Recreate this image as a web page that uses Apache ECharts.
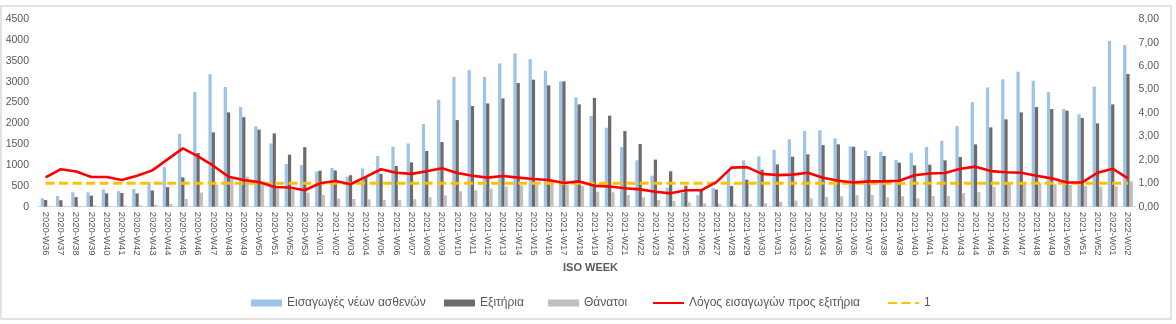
<!DOCTYPE html>
<html>
<head>
<meta charset="utf-8">
<script src="https://cdn.jsdelivr.net/npm/echarts@6/dist/echarts.min.js"></script>
<style>
html,body{margin:0;padding:0;background:#fff;}
#chart{width:1176px;height:324px;}
</style>
</head>
<body>
<div id="chart"></div>
<script>
var weeks = [
'2020-W36','2020-W37','2020-W38','2020-W39','2020-W40','2020-W41','2020-W42','2020-W43','2020-W44','2020-W45','2020-W46','2020-W47','2020-W48','2020-W49','2020-W50','2020-W51','2020-W52','2020-W53',
'2021-W01','2021-W02','2021-W03','2021-W04','2021-W05','2021-W06','2021-W07','2021-W08','2021-W09','2021-W10','2021-W11','2021-W12','2021-W13','2021-W14','2021-W15','2021-W16','2021-W17','2021-W18','2021-W19','2021-W20','2021-W21','2021-W22','2021-W23','2021-W24','2021-W25','2021-W26',
'2021-W27','2021-W28','2021-W29','2021-W30','2021-W31','2021-W32','2021-W33','2021-W34','2021-W35','2021-W36','2021-W37','2021-W38','2021-W39','2021-W40','2021-W41','2021-W42','2021-W43','2021-W44','2021-W45','2021-W46','2021-W47','2021-W48','2021-W49','2021-W50','2021-W51','2021-W52',
'2022-W01','2022-W02'];

var admissions = [
200,260,345,345,410,375,425,590,950,1750,2755,3185,2875,2395,1930,1520,1025,1000,
850,930,720,920,1215,1440,1520,1985,2570,3113,3280,3113,3440,3680,3545,3265,3010,2625,2180,1896,1433,1113,744,456,336,280,
450,850,1113,1209,1368,1617,1817,1833,1641,1450,1345,1320,1121,1297,1433,1585,1937,2513,2865,3057,3241,3025,2753,2345,2217,2881,
3977,3881];

var discharges = [
160,155,230,265,320,330,320,390,470,705,1290,1785,2265,2150,1850,1760,1250,1430,
865,870,755,715,790,977,1065,1337,1553,2080,2417,2480,2600,2970,3050,2913,3010,2457,2613,2185,1817,1505,1130,850,504,395,
410,497,648,888,1017,1200,1257,1480,1497,1440,1217,1217,1057,993,1009,1113,1193,1497,1905,2097,2265,2393,2345,2305,2129,2001,
2457,3185];

var deaths = [
15,15,20,25,20,30,35,45,65,185,340,530,710,720,600,440,400,336,
280,195,185,177,160,160,180,225,270,370,395,435,480,510,530,530,520,500,360,345,280,225,160,136,104,80,
64,56,64,80,120,144,200,235,250,275,280,225,250,200,257,257,325,350,475,560,580,560,540,520,500,480,
490,610];

var ratio = [
1.25,1.60,1.50,1.27,1.27,1.14,1.32,1.55,2.02,2.49,2.15,1.75,1.28,1.14,1.05,0.84,0.82,0.70,
1.00,1.10,0.96,1.27,1.60,1.45,1.40,1.51,1.64,1.44,1.32,1.24,1.31,1.24,1.18,1.14,1.01,1.08,0.89,0.86,0.79,0.74,0.64,0.57,0.70,0.70,
1.05,1.67,1.69,1.40,1.35,1.37,1.45,1.24,1.11,1.03,1.08,1.08,1.11,1.34,1.42,1.44,1.62,1.71,1.52,1.47,1.45,1.32,1.21,1.03,1.04,1.45,
1.62,1.21];

var reference = [
1,1,1,1,1,1,1,1,1,1,1,1,1,1,1,1,1,1,
1,1,1,1,1,1,1,1,1,1,1,1,1,1,1,1,1,1,1,1,1,1,1,1,1,1,
1,1,1,1,1,1,1,1,1,1,1,1,1,1,1,1,1,1,1,1,1,1,1,1,1,1,
1,1];

var leftTicks = {min: 0, max: 4500, interval: 500};
var rightTicks = {min: 0, max: 8, interval: 1};

var names = ['Εισαγωγές νέων ασθενών', 'Εξιτήρια', 'Θάνατοι', 'Λόγος εισαγωγών προς εξιτήρια', '1'];
var legendLeft = [246, 439, 543, 647, 882];

var FONT = 'Liberation Sans';
var TXT = '#595959';

function legendFor(i) {
  var item = {name: names[i]};
  if (i < 3) { item.icon = 'rect'; } else { item.itemStyle = {opacity: 0}; }
  return {
    left: legendLeft[i], top: 292,
    itemWidth: 31, itemHeight: 7, itemGap: 0,
    textStyle: {fontSize: 12, color: TXT, fontFamily: FONT},
    data: [item]
  };
}

var chart = echarts.init(document.getElementById('chart'), null, {renderer: 'canvas'});
chart.setOption({
  animation: false,
  backgroundColor: '#ffffff',
  textStyle: {fontFamily: FONT},
  graphic: [
    {type: 'rect', shape: {x: 1, y: 6, width: 1170, height: 313}, style: {fill: 'none', stroke: '#D9D9D9', lineWidth: 1.5}, z: -1},
    {type: 'text', left: 563, top: 262, style: {text: 'ISO WEEK', font: 'bold 11px "Liberation Sans"', fill: TXT}}
  ],
  grid: {left: 38, right: 40.4, top: 19.3, bottom: 117.3, containLabel: false},
  legend: [legendFor(0), legendFor(1), legendFor(2), legendFor(3), legendFor(4)],
  xAxis: {
    type: 'category',
    data: weeks,
    axisTick: {show: false},
    axisLine: {lineStyle: {color: '#D9D9D9', width: 1}},
    axisLabel: {interval: 0, rotate: -90, fontSize: 9.5, color: TXT, margin: 5, fontFamily: FONT}
  },
  yAxis: [
    {
      type: 'value', min: leftTicks.min, max: leftTicks.max, interval: leftTicks.interval,
      splitLine: {show: false}, axisLine: {show: false}, axisTick: {show: false},
      axisLabel: {fontSize: 10.5, color: TXT, margin: 9, fontFamily: FONT,
        formatter: function (v) { return String(v); }}
    },
    {
      type: 'value', min: rightTicks.min, max: rightTicks.max, interval: rightTicks.interval,
      splitLine: {show: false}, axisLine: {show: false}, axisTick: {show: false},
      axisLabel: {fontSize: 10.5, color: TXT, margin: 3, fontFamily: FONT,
        formatter: function (v) { return v.toFixed(2).replace('.', ','); }}
    }
  ],
  series: [
    {name: names[0], type: 'bar', data: admissions, itemStyle: {color: '#9DC3E6'}, barGap: '0%', barCategoryGap: '36%'},
    {name: names[1], type: 'bar', data: discharges, itemStyle: {color: '#6F6B6B'}, barGap: '0%', barCategoryGap: '36%'},
    {name: names[2], type: 'bar', data: deaths, itemStyle: {color: '#BFBFBF'}, barGap: '0%', barCategoryGap: '36%'},
    {name: names[3], type: 'line', yAxisIndex: 1, data: ratio, symbol: 'none', showSymbol: false,
      lineStyle: {color: '#FF0000', width: 2.6}, itemStyle: {color: '#FF0000'}, z: 4},
    {name: names[4], type: 'line', yAxisIndex: 1, data: reference, symbol: 'none', showSymbol: false,
      lineStyle: {color: '#FFC000', width: 3, type: [9, 4.5]}, itemStyle: {color: '#FFC000'}, z: 3}
  ]
});
</script>
</body>
</html>
